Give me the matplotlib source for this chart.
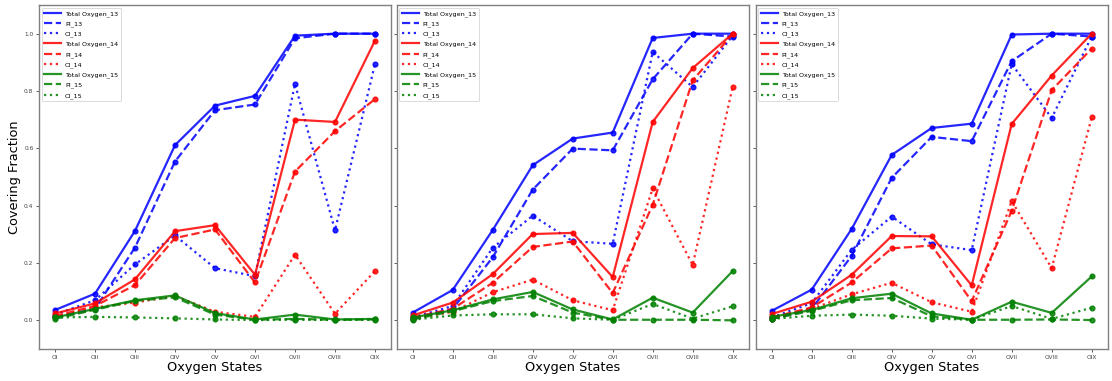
import matplotlib
matplotlib.use("Agg")
import matplotlib.pyplot as plt

states = ["OI", "OII", "OIII", "OIV", "OV", "OVI", "OVII", "OVIII", "OIX"]

# Panel 1
total_13_a = [0.036, 0.093, 0.312, 0.611, 0.749, 0.783, 0.993, 1.000, 1.000]
pi_13_a    = [0.010, 0.040, 0.254, 0.554, 0.733, 0.753, 0.984, 1.000, 1.000]
ci_13_a    = [0.020, 0.070, 0.195, 0.296, 0.182, 0.154, 0.825, 0.314, 0.894]
total_14_a = [0.024, 0.059, 0.143, 0.311, 0.332, 0.159, 0.700, 0.692, 0.976]
pi_14_a    = [0.015, 0.050, 0.123, 0.287, 0.317, 0.132, 0.519, 0.660, 0.772]
ci_14_a    = [0.010, 0.045, 0.062, 0.085, 0.030, 0.012, 0.229, 0.023, 0.172]
total_15_a = [0.010, 0.040, 0.070, 0.087, 0.025, 0.003, 0.020, 0.003, 0.005]
pi_15_a    = [0.005, 0.037, 0.068, 0.080, 0.020, 0.002, 0.005, 0.002, 0.003]
ci_15_a    = [0.010, 0.012, 0.010, 0.007, 0.003, 0.001, 0.002, 0.001, 0.002]

# Panel 2
total_13_b = [0.027, 0.106, 0.315, 0.541, 0.634, 0.655, 0.985, 1.000, 1.000]
pi_13_b    = [0.005, 0.040, 0.220, 0.456, 0.599, 0.593, 0.841, 1.000, 0.990]
ci_13_b    = [0.010, 0.050, 0.253, 0.365, 0.276, 0.267, 0.936, 0.814, 0.993]
total_14_b = [0.017, 0.062, 0.161, 0.301, 0.305, 0.151, 0.692, 0.880, 1.000]
pi_14_b    = [0.010, 0.040, 0.131, 0.256, 0.275, 0.095, 0.403, 0.837, 0.999]
ci_14_b    = [0.005, 0.030, 0.098, 0.142, 0.070, 0.035, 0.460, 0.193, 0.815]
total_15_b = [0.010, 0.035, 0.073, 0.099, 0.038, 0.003, 0.079, 0.027, 0.172]
pi_15_b    = [0.003, 0.032, 0.067, 0.085, 0.027, 0.002, 0.002, 0.002, 0.000]
ci_15_b    = [0.002, 0.017, 0.021, 0.021, 0.007, 0.002, 0.057, 0.006, 0.049]

# Panel 3
total_13_c = [0.033, 0.107, 0.319, 0.577, 0.671, 0.686, 0.997, 1.000, 1.000]
pi_13_c    = [0.005, 0.040, 0.225, 0.497, 0.640, 0.625, 0.904, 1.000, 0.990]
ci_13_c    = [0.010, 0.060, 0.246, 0.362, 0.265, 0.245, 0.894, 0.706, 0.990]
total_14_c = [0.022, 0.065, 0.159, 0.294, 0.293, 0.122, 0.685, 0.854, 1.000]
pi_14_c    = [0.010, 0.045, 0.132, 0.251, 0.261, 0.067, 0.382, 0.803, 0.948]
ci_14_c    = [0.005, 0.040, 0.091, 0.131, 0.063, 0.030, 0.416, 0.182, 0.708]
total_15_c = [0.012, 0.036, 0.077, 0.093, 0.024, 0.002, 0.065, 0.026, 0.153]
pi_15_c    = [0.005, 0.033, 0.070, 0.078, 0.014, 0.002, 0.002, 0.003, 0.001]
ci_15_c    = [0.005, 0.016, 0.020, 0.016, 0.006, 0.002, 0.050, 0.005, 0.044]

panels = [
    (total_13_a, pi_13_a, ci_13_a, total_14_a, pi_14_a, ci_14_a, total_15_a, pi_15_a, ci_15_a),
    (total_13_b, pi_13_b, ci_13_b, total_14_b, pi_14_b, ci_14_b, total_15_b, pi_15_b, ci_15_b),
    (total_13_c, pi_13_c, ci_13_c, total_14_c, pi_14_c, ci_14_c, total_15_c, pi_15_c, ci_15_c),
]

groups = ["13", "14", "15"]
colors = {"13": "blue", "14": "red", "15": "green"}
kinds = [("Total Oxygen_", "-"), ("PI_", "--"), ("CI_", ":")]

fig = plt.figure(figsize=(11.12, 3.81), dpi=100)
W = 352 / 1112
lefts = [39 / 1112, 396.7 / 1112, 755.7 / 1112]
bottom = 32 / 381
height = 344 / 381

axes = []
for left in lefts:
    ax = fig.add_axes([left, bottom, W, height], sharey=axes[0] if axes else None)
    axes.append(ax)

x = list(range(len(states)))
for ax, series in zip(axes, panels):
    k = 0
    for g in groups:
        for prefix, ls in kinds:
            # line carries the legend entry, points are drawn on top
            ax.plot(x, series[k], linestyle=ls, color=colors[g], alpha=0.85,
                    linewidth=1.6, label=prefix + g)
            ax.plot(x, series[k], linestyle="none", marker="o", color=colors[g],
                    alpha=0.85, markersize=3.4)
            k += 1
    ax.set_xticks(x)
    ax.set_xticklabels(states)
    ax.set_ylim(-0.1, 1.1)
    ax.set_yticks([0.0, 0.2, 0.4, 0.6, 0.8, 1.0])
    ax.tick_params(labelsize=4.2, length=2, width=0.6, colors="#444444", pad=2)
    for sp in ax.spines.values():
        sp.set_color("#808080")
        sp.set_linewidth(1.0)
    ax.set_xlabel("Oxygen States", fontsize=9.3, labelpad=1)
    leg = ax.legend(loc="upper left", fontsize=4.6, handlelength=2.6,
                    borderaxespad=0.4, framealpha=1.0, labelspacing=0.64,
                    handletextpad=0.6, borderpad=0.45)
    leg.get_frame().set_linewidth(0.5)

for ax in axes[1:]:
    ax.tick_params(labelleft=False)
axes[0].set_ylabel("Covering Fraction", fontsize=9.3, labelpad=2)

fig.savefig("out.png", dpi=100)
